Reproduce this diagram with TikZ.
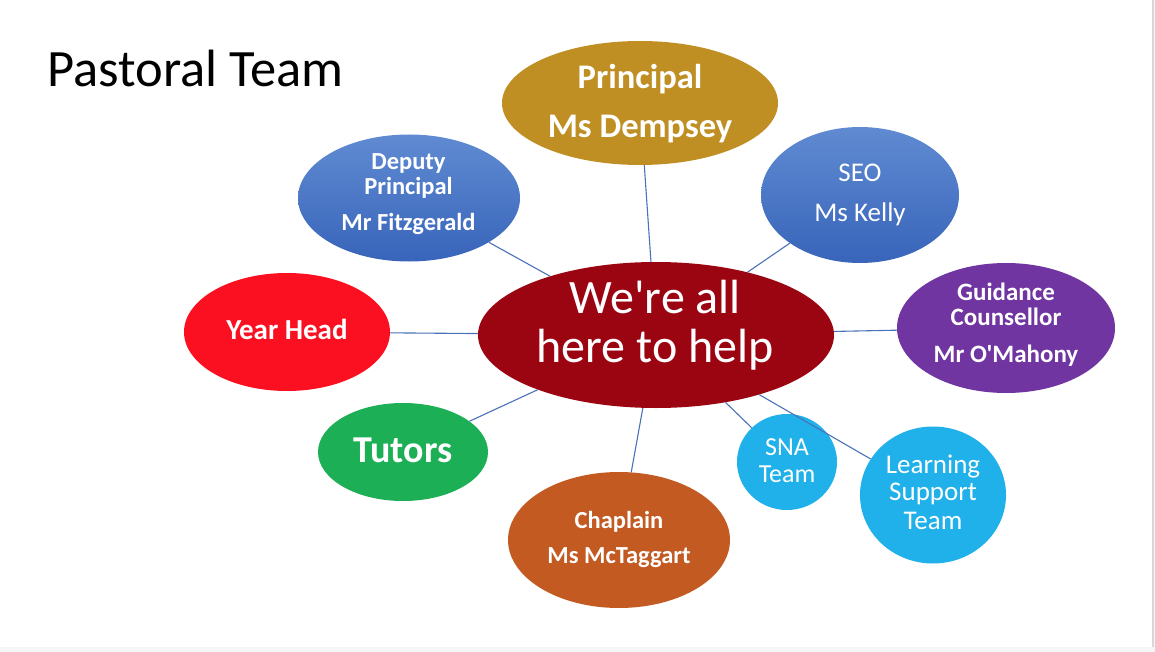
\documentclass[tikz,border=0pt]{standalone}
\usepackage{fontspec}
\setmainfont{Carlito}[Ligatures=TeXOff]
\usetikzlibrary{shapes.geometric}
\definecolor{cCenter}{RGB}{155,5,18}
\definecolor{cGold}{RGB}{191,143,36}
\definecolor{cBlueTop}{RGB}{96,139,210}
\definecolor{cBlueBot}{RGB}{56,100,186}
\definecolor{cRed}{RGB}{250,16,32}
\definecolor{cGreen}{RGB}{29,175,85}
\definecolor{cOrange}{RGB}{194,90,34}
\definecolor{cPurple}{RGB}{112,53,160}
\definecolor{cCyan}{RGB}{32,176,234}
\definecolor{cLine}{RGB}{74,114,184}
\definecolor{cBg}{RGB}{245,246,248}
\definecolor{cEdge}{RGB}{215,215,218}
\begin{document}
\begin{tikzpicture}[x=1pt,y=-1pt,
  bubble/.style={ellipse, inner sep=0pt, draw=none},
  bluebubble/.style={bubble, top color=cBlueTop, bottom color=cBlueBot},
  lbl/.style={anchor=base, text=white, inner sep=0pt},
  link/.style={draw=cLine, line width=1.1pt}]
\useasboundingbox (0,0) rectangle (1155,652);
\fill[cBg] (0,0) rectangle (1155,652);
\fill[white] (0,0) rectangle (1152,647);
\fill[cEdge] (1152,0) rectangle (1154,647);

% bubbles
\node[bubble, fill=cCenter, minimum width=356pt, minimum height=146pt] (hub) at (656,335) {};
\node[bubble, fill=cGold, minimum width=276pt, minimum height=124pt] (prin) at (640,103) {};
\node[bluebubble, minimum width=222pt, minimum height=127pt] (dep) at (409,198) {};
\node[bluebubble, minimum width=198pt, minimum height=136pt] (seo) at (860,195) {};
\node[bubble, fill=cRed, minimum width=206pt, minimum height=118pt] (yh) at (287,332) {};
\node[bubble, fill=cGreen, minimum width=170pt, minimum height=98pt] (tut) at (403,452) {};
\node[bubble, fill=cOrange, minimum width=222pt, minimum height=136pt] (chap) at (619,540) {};
\node[bubble, fill=cPurple, minimum width=218pt, minimum height=130pt] (guid) at (1006,328) {};
\node[bubble, fill=cCyan, minimum width=100pt, minimum height=96pt] (sna) at (787,462) {};
\node[bubble, fill=cCyan, minimum width=146pt, minimum height=137pt] (lst) at (933,495) {};

% connectors
\draw[link] (prin) -- (hub);
\draw[link] (dep) -- (hub);
\draw[link] (seo) -- (hub);
\draw[link] (yh) -- (hub);
\draw[link] (tut) -- (hub);
\draw[link] (chap) -- (hub);
\draw[link] (guid) -- (hub);
\draw[link] (sna) -- (hub);
\draw[link] (lst) -- (hub);

% title
\node[anchor=base west, inner sep=0pt, font=\fontsize{52.5}{60}\selectfont] (title) at (47,87) {Pastoral Team};

% labels
\node[lbl, font=\fontsize{48}{50}\selectfont] (hub1) at (655,313) {We're all};
\node[lbl, font=\fontsize{48}{50}\selectfont] (hub2) at (655,362) {here to help};

\node[lbl, font=\bfseries\fontsize{34.5}{40}\selectfont] (prin1) at (640,89) {Principal};
\node[lbl, font=\bfseries\fontsize{34.5}{40}\selectfont] (prin2) at (640,138) {Ms Dempsey};

\node[lbl, font=\bfseries\fontsize{24.5}{28}\selectfont] (dep1) at (408.5,170) {Deputy};
\node[lbl, font=\bfseries\fontsize{24.5}{28}\selectfont] (dep2) at (408.5,195) {Principal};
\node[lbl, font=\bfseries\fontsize{24.5}{28}\selectfont] (dep3) at (408.5,230) {Mr Fitzgerald};

\node[lbl, font=\fontsize{27}{30}\selectfont] (seo1) at (860,182) {SEO};
\node[lbl, font=\fontsize{27}{30}\selectfont] (seo2) at (860,222) {Ms Kelly};

\node[lbl, font=\bfseries\fontsize{29}{32}\selectfont] (yh1) at (287,339) {Year Head};

\node[lbl, font=\bfseries\fontsize{38}{42}\selectfont] (tut1) at (403,462) {Tutors};

\node[lbl, font=\bfseries\fontsize{24.5}{28}\selectfont] (chap1) at (619,528) {Chaplain};
\node[lbl, font=\bfseries\fontsize{24.5}{28}\selectfont] (chap2) at (619,563) {Ms McTaggart};

\node[lbl, font=\bfseries\fontsize{25}{28}\selectfont] (guid1) at (1006,300) {Guidance};
\node[lbl, font=\bfseries\fontsize{25}{28}\selectfont] (guid2) at (1006,325) {Counsellor};
\node[lbl, font=\bfseries\fontsize{25}{28}\selectfont] (guid3) at (1006,362) {Mr O'Mahony};

\node[lbl, font=\fontsize{26}{28}\selectfont] (sna1) at (787,455) {SNA};
\node[lbl, font=\fontsize{26}{28}\selectfont] (sna2) at (787,482) {Team};

\node[lbl, font=\fontsize{27}{29}\selectfont] (lst1) at (933,473) {Learning};
\node[lbl, font=\fontsize{27}{29}\selectfont] (lst2) at (933,500) {Support};
\node[lbl, font=\fontsize{27}{29}\selectfont] (lst3) at (933,529) {Team};
\end{tikzpicture}
\end{document}
